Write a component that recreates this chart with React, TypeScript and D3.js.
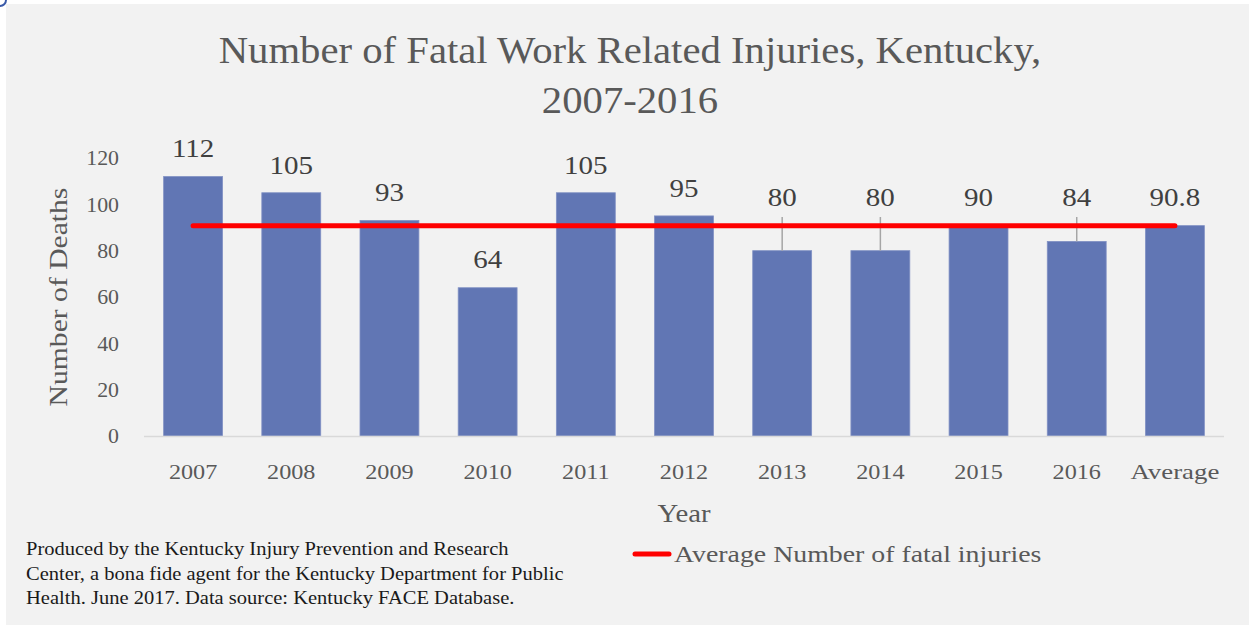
import React from "react";
import * as d3 from "d3";

const categories = ["2007", "2008", "2009", "2010", "2011", "2012", "2013", "2014", "2015", "2016", "Average"];
const deaths = [112, 105, 93, 64, 105, 95, 80, 80, 90, 84, 90.8];
const averageValue = 90.8;
const yTicks = [0, 20, 40, 60, 80, 100, 120];
const titleLines = ["Number of Fatal Work Related Injuries, Kentucky,", "2007-2016"];
const footnoteLines = [
  "Produced by the Kentucky Injury Prevention and Research",
  "Center, a bona fide agent for the Kentucky Department for Public",
  "Health. June 2017. Data source: Kentucky FACE Database.",
];
const legendLabel = "Average Number of fatal injuries";

const W = 1249;
const H = 625;
const FONT = "'Palatino Linotype', 'Book Antiqua', Palatino, 'Liberation Serif', serif";
const TEXT = "#595959";
const BAR = "#6176b4";

type TProps = {
  x: number;
  y: number;
  size: number;
  sx?: number;
  anchor?: "start" | "middle" | "end";
  fill?: string;
  rotate?: number;
  dy?: string;
  children: React.ReactNode;
};

function T({ x, y, size, sx = 1, anchor = "start", fill = TEXT, rotate = 0, dy = "0.35em", children }: TProps) {
  return (
    <text
      transform={`translate(${x},${y}) rotate(${rotate}) scale(${sx},1)`}
      textAnchor={anchor}
      fontSize={size}
      fill={fill}
      dy={dy}
    >
      {children}
    </text>
  );
}

export default function App() {
  const plot = { left: 144, right: 1224, top: 158, bottom: 436 };
  const x = d3.scaleBand<string>().domain(categories).range([plot.left, plot.right]).paddingInner(0.4).paddingOuter(0.2);
  const y = d3.scaleLinear().domain([0, 120]).range([plot.bottom, plot.top]);
  const xc = (c: string) => (x(c) as number) + x.bandwidth() / 2;
  const avgY = y(averageValue);
  const line = d3.line<string>().x((c) => xc(c)).y(() => avgY);
  const lineCats = [categories[0], categories[categories.length - 1]];

  const labelInfo = deaths.map((v) => {
    const top = y(v);
    const def = top - 28;
    const moved = Math.abs(def - avgY) < 30;
    return { top, ly: moved ? avgY - 28 : def, leader: moved && top > avgY + 5 };
  });

  return (
    <svg width={W} height={H} style={{ position: "absolute", left: 0, top: 0 }} fontFamily={FONT}>
      <rect x={0} y={0} width={W} height={H} fill="#ffffff" />
      <rect x={6} y={4} width={W - 6} height={H - 4} fill="#f2f2f2" />
      <path d="M0,6 A6,6 0 0 0 6,0" stroke="#3a5aa8" strokeWidth={2} fill="none" />

      {titleLines.map((t, i) => (
        <T key={t} x={630} y={63 + i * 50} size={37} sx={1.1} anchor="middle" dy="0">{t}</T>
      ))}

      {yTicks.map((t) => (
        <T key={t} x={119} y={y(t)} size={21} sx={1.04} anchor="end">{t}</T>
      ))}
      <T x={58} y={(plot.top + plot.bottom) / 2} size={26} sx={1.14} anchor="middle" rotate={-90}>Number of Deaths</T>

      {categories.map((c, i) => (
        <rect key={c} x={x(c)} y={y(deaths[i])} width={x.bandwidth()} height={plot.bottom - y(deaths[i])} fill={BAR} stroke="#8191c4" strokeWidth={0.8} />
      ))}

      <line x1={plot.left} x2={plot.right} y1={plot.bottom + 0.5} y2={plot.bottom + 0.5} stroke="#d9d9d9" strokeWidth={1.5} />

      {categories.map((c, i) =>
        labelInfo[i].leader ? (
          <line key={c} x1={xc(c)} x2={xc(c)} y1={217} y2={labelInfo[i].top} stroke="#a6a6a6" strokeWidth={1.5} />
        ) : null
      )}

      <path d={line(lineCats) || ""} stroke="#ff0000" strokeWidth={5} strokeLinecap="round" fill="none" />

      {categories.map((c, i) => (
        <T key={c} x={xc(c)} y={labelInfo[i].ly} size={25} sx={1.16} anchor="middle" fill="#404040">{deaths[i]}</T>
      ))}

      {categories.map((c) => (
        <T key={c} x={xc(c)} y={471} size={22} sx={c === "Average" ? 1.22 : 1.1} anchor="middle">{c}</T>
      ))}
      <T x={(plot.left + plot.right) / 2} y={513} size={25} sx={1.15} anchor="middle">Year</T>

      <line x1={635} x2={669} y1={554} y2={554} stroke="#ff0000" strokeWidth={5} strokeLinecap="round" />
      <T x={674} y={554} size={24} sx={1.16}>{legendLabel}</T>

      {footnoteLines.map((t, i) => (
        <T key={t} x={26} y={549 + i * 24.5} size={18} sx={1.14} fill="#1a1a1a">{t}</T>
      ))}
    </svg>
  );
}
